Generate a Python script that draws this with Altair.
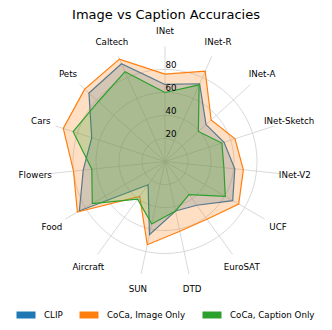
import altair as alt
import pandas as pd

# ---------------- data ----------------
categories = ["INet", "INet-R", "INet-A", "INet-Sketch", "INet-V2", "UCF", "EuroSAT",
              "DTD", "SUN", "Aircraft", "Food", "Flowers", "Cars", "Pets", "Caltech"]
clip = [67, 74, 48, 54, 61, 68, 47, 44, 65, 25, 86, 71.5, 67, 89, 93]
coca_image = [76, 86, 54, 64, 68.5, 74, 62, 62, 74, 37.5, 88, 80, 93, 94, 97.5]
coca_caption = [60, 73, 39, 52, 51.5, 60.5, 35.5, 44, 55.5, 40.5, 73, 64, 84, 78, 85.5]
series_names = ["CLIP", "CoCa, Image Only", "CoCa, Caption Only"]
series_colors = ["#1f77b4", "#ff7f0e", "#2ca02c"]
ring_values = [20, 40, 60, 80]
ring_labels = ["20", "40", "60", "80"]
r_max = 100
label_r = 113.5

n = len(categories)
FONT = "DejaVu Sans"

# polygon table (closed: first point repeated)
rows = []
for name, vals in zip(series_names, [clip, coca_image, coca_caption]):
    for i in range(n + 1):
        rows.append({"series": name, "idx": i, "value": vals[i % n]})
poly_df = pd.DataFrame(rows)

cat_df = pd.DataFrame({"idx": list(range(n)), "category": categories})
ring_df = pd.DataFrame([{"ring": r, "deg": d} for r in ring_values for d in range(0, 361, 3)])
rlab_df = pd.DataFrame({"value": ring_values, "label": ring_labels})

theta_expr = f"datum.idx * 2 * PI / {n}"

xscale = alt.Scale(domain=[-136.52, 138.26], nice=False, zero=False)
yscale = alt.Scale(domain=[-139.57, 116.09], nice=False, zero=False)

def X(field):
    return alt.X(field, type="quantitative", scale=xscale, axis=None)

def Y(field):
    return alt.Y(field, type="quantitative", scale=yscale, axis=None)

grid_color = "#cfcfcf"

rings = alt.Chart(ring_df).transform_calculate(
    x=f"datum.ring * sin(datum.deg * PI / 180)",
    y=f"datum.ring * cos(datum.deg * PI / 180)",
).mark_line(color=grid_color, strokeWidth=0.8).encode(
    x=X("x"), y=Y("y"), detail="ring:N", order="deg:Q"
)

spokes = alt.Chart(cat_df).transform_calculate(
    theta=theta_expr,
    x0="0", y0="0",
    x1=f"{r_max} * sin(datum.theta)",
    y1=f"{r_max} * cos(datum.theta)",
).mark_rule(color=grid_color, strokeWidth=0.8).encode(
    x=X("x0"), y=Y("y0"), x2="x1:Q", y2="y1:Q"
)

color_scale = alt.Scale(domain=series_names, range=series_colors)
legend = alt.Legend(
    title=None, orient="none", legendX=5, legendY=274, direction="horizontal",
    symbolType="stroke", symbolSize=361, symbolStrokeWidth=7,
    labelFont=FONT, labelFontSize=8.7, labelColor="black", labelOffset=5,
    columnPadding=2,
)

series_layers = []
for name, col in zip(series_names, series_colors):
    layer = alt.Chart(poly_df).transform_filter(
        alt.datum.series == name
    ).transform_calculate(
        theta=theta_expr,
        x="datum.value * sin(datum.theta)",
        y="datum.value * cos(datum.theta)",
    ).mark_line(fill=col, fillOpacity=0.25, strokeWidth=1.2).encode(
        x=X("x"), y=Y("y"), order="idx:Q",
        color=alt.Color("series:N", scale=color_scale, legend=legend),
    )
    series_layers.append(layer)

cat_labels = alt.Chart(cat_df).transform_calculate(
    theta=theta_expr,
    x=f"{label_r} * sin(datum.theta)",
    y=f"{label_r} * cos(datum.theta)",
).mark_text(font=FONT, fontSize=8.7, color="black", align="center", baseline="middle").encode(
    x=X("x"), y=Y("y"), text="category:N"
)

r_labels = alt.Chart(rlab_df).transform_calculate(
    x0="0"
).mark_text(font=FONT, fontSize=8.7, color="black", align="left", baseline="alphabetic", dx=0.5, dy=-2).encode(
    x=X("x0"), y=Y("value"), text="label:N"
)

chart = alt.layer(rings, spokes, *series_layers, cat_labels, r_labels).properties(
    width=316, height=294,
    padding=0,
    title=alt.TitleParams("Image vs Caption Accuracies", font=FONT, fontSize=13,
                          fontWeight="normal", color="black", anchor="middle",
                          offset=5),
).configure_view(stroke=None)

chart.save("out.html", embed_options={"renderer": "svg", "actions": False})
